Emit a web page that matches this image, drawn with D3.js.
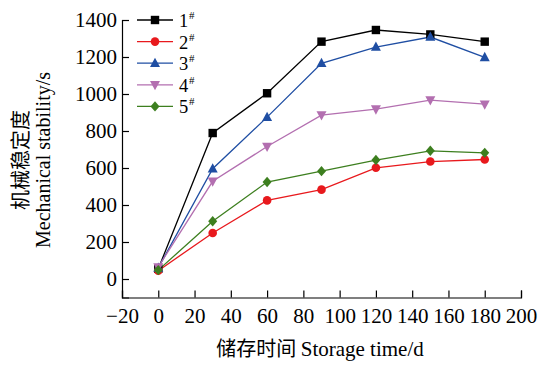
<!DOCTYPE html>
<html>
<head>
<meta charset="utf-8">
<script src="https://cdn.jsdelivr.net/npm/d3@7"></script>
<style>
  html, body { margin: 0; padding: 0; background: #fff; }
  svg text { font-family: "Liberation Serif", "Times New Roman", serif; fill: #000; }
  .cjk { font-family: "Noto Sans CJK SC", sans-serif; }
</style>
</head>
<body>
<svg id="chart" width="541" height="365"></svg>
<script>
// Storage days and mechanical stability (s) for each sample
const days = [0, 30, 60, 90, 120, 150, 180];
const s1 = [55, 789, 1004, 1283, 1346, 1322, 1283];
const s2 = [45, 249, 425, 483, 601, 635, 646];
const s3 = [60, 596, 875, 1166, 1254, 1308, 1198];
const s4 = [65, 528, 716, 886, 918, 967, 945];
const s5 = [48, 312, 524, 583, 643, 693, 682];
const seriesNames = ["1", "2", "3", "4", "5"];
const seriesColors = ["#000000", "#e8191d", "#1f4ea3", "#b36fb0", "#3d7f1f"];
const seriesSymbols = ["square", "circle", "triangle", "triangleDown", "diamond"];
const xTicks = [-20, 0, 20, 40, 60, 80, 100, 120, 140, 160, 180, 200];
const yTicks = [0, 200, 400, 600, 800, 1000, 1200, 1400];

const allSeries = [s1, s2, s3, s4, s5];

const svg = d3.select("#chart");
const x = d3.scaleLinear().domain([-20, 200]).range([122, 521]);
const y = d3.scaleLinear().domain([-100, 1400]).range([297.5, 20]);

// Axes with inward ticks
const xAxis = d3.axisBottom(x).tickValues(xTicks).tickSize(-7).tickPadding(16)
  .tickFormat(d => d < 0 ? "\u2212" + Math.abs(d) : String(d));
const yAxis = d3.axisLeft(y).tickValues(yTicks).tickSize(-7).tickPadding(5)
  .tickFormat(d3.format("d"));

const gx = svg.append("g").attr("transform", `translate(0,${y(-100)})`).call(xAxis);
const gy = svg.append("g").attr("transform", `translate(${x(-20)},0)`).call(yAxis);
[gx, gy].forEach(g => {
  g.select(".domain").attr("stroke", "#000").attr("stroke-width", 1.2);
  g.selectAll(".tick line").attr("stroke", "#000").attr("stroke-width", 1.2);
  g.selectAll(".tick text").attr("font-size", 21).attr("font-family", "Liberation Serif").attr("fill", "#000");
});
gx.selectAll(".tick text").attr("dy", "0.45em");

// Marker drawing
function marker(sel, kind, color) {
  if (kind === "circle") {
    sel.append("circle").attr("r", 4.3).attr("fill", color);
  } else if (kind === "square") {
    sel.append("rect").attr("x", -4.2).attr("y", -4.2).attr("width", 8.4).attr("height", 8.4).attr("fill", color);
  } else if (kind === "triangle") {
    sel.append("path").attr("d", "M0,-5.5L5,3.8L-5,3.8Z").attr("fill", color);
  } else if (kind === "triangleDown") {
    sel.append("path").attr("d", "M0,5.5L5,-3.8L-5,-3.8Z").attr("fill", color);
  } else if (kind === "diamond") {
    sel.append("path").attr("d", "M0,-5.2L4.5,0L0,5.2L-4.5,0Z").attr("fill", color);
  }
}

const line = d3.line().x(d => x(d[0])).y(d => y(d[1]));

allSeries.forEach((vals, i) => {
  const pts = days.map((d, j) => [d, vals[j]]);
  svg.append("path").datum(pts).attr("d", line)
    .attr("fill", "none").attr("stroke", seriesColors[i]).attr("stroke-width", 1.3);
});
allSeries.forEach((vals, i) => {
  days.forEach((d, j) => {
    const g = svg.append("g").attr("transform", `translate(${x(d)},${y(vals[j])})`);
    marker(g, seriesSymbols[i], seriesColors[i]);
  });
});

// Legend
const legend = svg.append("g");
seriesNames.forEach((name, i) => {
  const ly = 20 + i * 21.6;
  legend.append("line").attr("x1", 137).attr("x2", 173).attr("y1", ly).attr("y2", ly)
    .attr("stroke", seriesColors[i]).attr("stroke-width", 1.3);
  const g = legend.append("g").attr("transform", `translate(155,${ly})`);
  marker(g, seriesSymbols[i], seriesColors[i]);
  legend.append("text").attr("x", 179).attr("y", ly + 7).attr("font-size", 18.5).text(name);
  legend.append("text").attr("x", 189).attr("y", ly - 1).attr("font-size", 11).text("#");
});

// Axis titles
const yt = svg.append("g").attr("transform", "translate(0,160) rotate(-90)");
yt.append("text").attr("class", "cjk").attr("x", 0).attr("y", 28)
  .attr("text-anchor", "middle").attr("font-size", 20).text("机械稳定度");
yt.append("text").attr("x", 0).attr("y", 50)
  .attr("text-anchor", "middle").attr("font-size", 20).text("Mechanical stability/s");

const xt = svg.append("text").attr("x", 320).attr("y", 356).attr("text-anchor", "middle").attr("font-size", 21);
xt.append("tspan").attr("class", "cjk").attr("font-size", 20).text("储存时间 ");
xt.append("tspan").text("Storage time/d");
</script>
</body>
</html>
